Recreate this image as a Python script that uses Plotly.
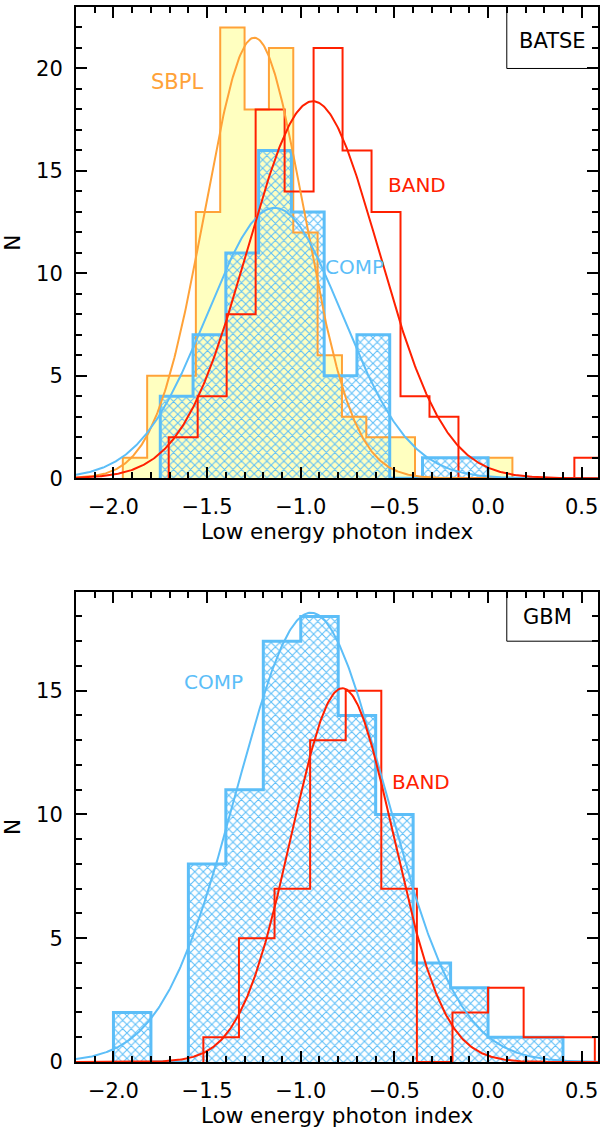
import numpy as np
import plotly.graph_objects as go

# ---- BATSE sample: histogram bins (first edge, bin width) and counts ----
batse_sbpl_start, batse_sbpl_width = -1.95, 0.13
batse_sbpl_counts = [1, 5, 5, 13, 22, 18, 21, 12, 6, 3, 2, 2, 0, 0, 0, 1]

batse_band_start, batse_band_width = -1.705, 0.1547
batse_band_counts = [2, 4, 8, 18, 14, 21, 16, 13, 4, 3, 0, 0, 0, 0, 1]

batse_comp_start, batse_comp_width = -1.75, 0.175
batse_comp_counts = [4, 7, 11, 16, 13, 5, 7, 0, 1, 1]

# ---- GBM sample ----
gbm_comp_start, gbm_comp_width = -2.0, 0.2
gbm_comp_counts = [2, 0, 8, 11, 17, 18, 14, 10, 4, 3, 1, 1]

gbm_band_start, gbm_band_width = -1.52, 0.19
gbm_band_counts = [1, 5, 7, 13, 15, 7, 0, 2, 3, 1, 1]

# ---- Gaussian fits: [peak, mean, sigma] ----
batse_sbpl_fit = [21.5, -1.248, 0.265]
batse_band_fit = [18.4, -0.935, 0.35]
batse_comp_fit = [13.2, -1.14, 0.36]
gbm_comp_fit = [18.15, -0.946, 0.395]
gbm_band_fit = [15.1, -0.778, 0.272]

x_range = [-2.2, 0.587]

ORANGE = "rgb(255,162,56)"
YELLOW = "rgb(255,255,192)"
BLUE = "rgb(92,190,248)"
RED = "rgb(255,32,0)"
FONT = "DejaVu Sans"


def edges(start, width, counts):
    return start + width * np.arange(len(counts) + 1)


def step_xy(start, width, counts):
    e = edges(start, width, counts)
    xs = [e[0]] + list(e[:-1]) + [e[-1]]
    ys = [0] + list(counts) + [0]
    return xs, ys


def centers(start, width, counts):
    e = edges(start, width, counts)
    return (e[:-1] + e[1:]) / 2


def gauss(params, x):
    a, mu, sig = params
    return a * np.exp(-((x - mu) ** 2) / (2 * sig ** 2))


xg = np.linspace(x_range[0], x_range[1], 500)

fig = go.Figure()


def add_filled(start, width, counts, color, xa, ya):
    fig.add_trace(go.Bar(
        x=centers(start, width, counts), y=counts, width=width,
        marker=dict(color=color, line=dict(width=0)),
        xaxis=xa, yaxis=ya, showlegend=False, hoverinfo="skip"))


def add_hatched(start, width, counts, color, xa, ya):
    fig.add_trace(go.Bar(
        x=centers(start, width, counts), y=counts, width=width,
        marker=dict(color="rgba(0,0,0,0)", line=dict(width=0),
                    pattern=dict(shape="x", fgcolor=color,
                                 bgcolor="rgba(0,0,0,0)", size=6,
                                 solidity=0.32, fillmode="replace")),
        xaxis=xa, yaxis=ya, showlegend=False, hoverinfo="skip"))


def add_step(start, width, counts, color, lw, xa, ya):
    xs, ys = step_xy(start, width, counts)
    fig.add_trace(go.Scatter(
        x=xs, y=ys, mode="lines", line=dict(color=color, width=lw, shape="hv"),
        xaxis=xa, yaxis=ya, showlegend=False, hoverinfo="skip"))


def add_fit(params, color, lw, xa, ya):
    fig.add_trace(go.Scatter(
        x=xg, y=gauss(params, xg), mode="lines",
        line=dict(color=color, width=lw),
        xaxis=xa, yaxis=ya, showlegend=False, hoverinfo="skip"))


# Top panel: BATSE
add_filled(batse_sbpl_start, batse_sbpl_width, batse_sbpl_counts, YELLOW, "x", "y")
add_hatched(batse_comp_start, batse_comp_width, batse_comp_counts, BLUE, "x", "y")
add_step(batse_sbpl_start, batse_sbpl_width, batse_sbpl_counts, ORANGE, 2, "x", "y")
add_step(batse_comp_start, batse_comp_width, batse_comp_counts, BLUE, 3, "x", "y")
add_step(batse_band_start, batse_band_width, batse_band_counts, RED, 2, "x", "y")
add_fit(batse_sbpl_fit, ORANGE, 2, "x", "y")
add_fit(batse_comp_fit, BLUE, 2, "x", "y")
add_fit(batse_band_fit, RED, 2, "x", "y")

# Bottom panel: GBM
add_hatched(gbm_comp_start, gbm_comp_width, gbm_comp_counts, BLUE, "x2", "y2")
add_step(gbm_comp_start, gbm_comp_width, gbm_comp_counts, BLUE, 3, "x2", "y2")
add_step(gbm_band_start, gbm_band_width, gbm_band_counts, RED, 2, "x2", "y2")
add_fit(gbm_comp_fit, BLUE, 2, "x2", "y2")
add_fit(gbm_band_fit, RED, 2, "x2", "y2")

tick_font = dict(family=FONT, size=21, color="black")
title_font = dict(family=FONT, size=21.5, color="black")


def xaxis_cfg(anchor):
    return dict(
        range=x_range, anchor=anchor, domain=[0, 1],
        showline=True, linecolor="black", linewidth=2, mirror="ticks",
        ticks="inside", ticklen=11, tickwidth=2, tickcolor="black",
        tick0=0, dtick=0.5, tickformat=".1f", tickfont=tick_font,
        minor=dict(tick0=0, dtick=0.1, ticks="inside", ticklen=6,
                   tickwidth=2, tickcolor="black"),
        showgrid=False, zeroline=False, ticklabelstandoff=9,
        title=dict(text="Low energy photon index", font=title_font, standoff=5),
    )


def yaxis_cfg(anchor, domain, ymax):
    return dict(
        range=[0, ymax], anchor=anchor, domain=domain,
        showline=True, linecolor="black", linewidth=2, mirror="ticks",
        ticks="inside", ticklen=11, tickwidth=2, tickcolor="black",
        tick0=0, dtick=5, tickfont=tick_font,
        minor=dict(tick0=0, dtick=1, ticks="inside", ticklen=6,
                   tickwidth=2, tickcolor="black"),
        showgrid=False, zeroline=False, ticklabelstandoff=7,
        title=dict(text="N", font=title_font, standoff=16),
    )


def label(text, x, y, color, xref, yref, size=20):
    return dict(text=text, x=x, y=y, xref=xref, yref=yref, showarrow=False,
                xanchor="center", yanchor="middle",
                font=dict(family=FONT, size=size, color=color))


def corner_box(xref, yref, x0, y0, y1):
    return [
        dict(type="line", xref=xref, yref=yref, x0=x0, x1=x0, y0=y0, y1=y1,
             line=dict(color="black", width=1)),
        dict(type="line", xref=xref, yref=yref, x0=x0, x1=x_range[1], y0=y0, y1=y0,
             line=dict(color="black", width=1)),
    ]


fig.update_layout(
    width=600, height=1129,
    margin=dict(l=76, r=0, t=7, b=67),
    paper_bgcolor="white", plot_bgcolor="white",
    barmode="overlay", bargap=0,
    showlegend=False,
    xaxis=xaxis_cfg("y"),
    yaxis=yaxis_cfg("x", [0.5533, 1.0], 23),
    xaxis2=xaxis_cfg("y2"),
    yaxis2=yaxis_cfg("x2", [0.0, 0.4458], 19),
    annotations=[
        label("SBPL", -1.66, 19.33, ORANGE, "x", "y", 21),
        label("BAND", -0.377, 14.3, RED, "x", "y"),
        label("COMP", -0.712, 10.32, BLUE, "x", "y"),
        label("BATSE", 0.343, 21.34, "black", "x", "y", 21),
        label("COMP", -1.467, 15.34, BLUE, "x2", "y2"),
        label("BAND", -0.357, 11.31, RED, "x2", "y2"),
        label("GBM", 0.32, 17.97, "black", "x2", "y2", 21),
    ],
    shapes=corner_box("x", "y", 0.1, 20, 23) + corner_box("x2", "y2", 0.1, 17, 19),
)

fig.write_html("out.html")
